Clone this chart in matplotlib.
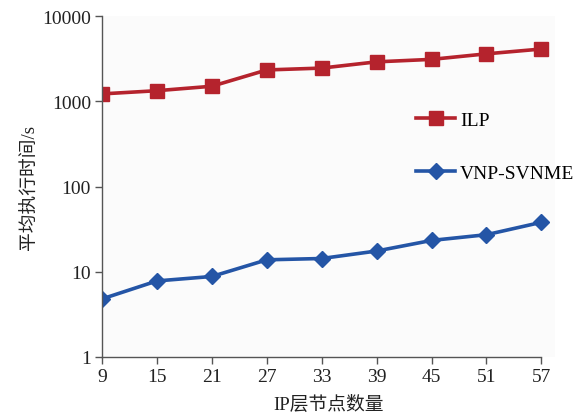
import numpy as np
import matplotlib
matplotlib.use('Agg')
import matplotlib.pyplot as plt

plt.rcParams['font.family'] = ['Liberation Serif', 'Noto Sans CJK SC']

# IP层节点数量
nodes = [9, 15, 21, 27, 33, 39, 45, 51, 57]
# 平均执行时间 (s)
ilp = [1220, 1330, 1500, 2330, 2450, 2900, 3100, 3600, 4100]
vnp_svnme = [4.8, 7.8, 8.8, 13.8, 14.3, 17.5, 23.3, 27.2, 38.0]

red = '#b5232d'
blue = '#2455a6'
fs = 14

fig = plt.figure(figsize=(5.77, 4.14), dpi=100)
ax = fig.add_axes([0.1768, 0.1353, 0.962 - 0.1768, 0.9589 - 0.1353])
ax.set_facecolor('#fbfbfb')

l1, = ax.plot(nodes, ilp, color=red, lw=2.6, marker='s', ms=10.5, label='ILP')
l2, = ax.plot(nodes, vnp_svnme, color=blue, lw=2.6, marker='D', ms=8, label='VNP-SVNME')

ax.set_yscale('log')
ax.set_ylim(1, 10000)
ax.set_xlim(9, 58.5)
ax.set_xticks(nodes)
ax.set_yticks([1, 10, 100, 1000, 10000])
ax.set_yticklabels(['1', '10', '100', '1000', '10000'])
ax.minorticks_off()

for s in ['top', 'right']:
    ax.spines[s].set_visible(False)
ax.spines['bottom'].set_bounds(9, 57)
for s in ['left', 'bottom']:
    ax.spines[s].set_color('#555555')
    ax.spines[s].set_linewidth(1.0)
ax.tick_params(axis='both', colors='#555555', labelcolor='#222222',
               labelsize=fs, length=5, width=1.0, direction='out')
ax.tick_params(axis='x', pad=3)
ax.tick_params(axis='y', pad=3)

ax.set_xlabel('IP层节点数量', fontsize=13.5, color='#222222', labelpad=7)
ax.set_ylabel('平均执行时间/s', fontsize=13.5, color='#222222', labelpad=2)

leg1 = ax.legend(handles=[l1], loc='center left', bbox_to_anchor=(0.655, 0.695),
                 frameon=False, fontsize=fs, handlelength=2.0, handletextpad=0.25)
ax.add_artist(leg1)
ax.legend(handles=[l2], loc='center left', bbox_to_anchor=(0.655, 0.54),
          frameon=False, fontsize=fs, handlelength=2.0, handletextpad=0.25)

fig.savefig('out.png', dpi=100)
